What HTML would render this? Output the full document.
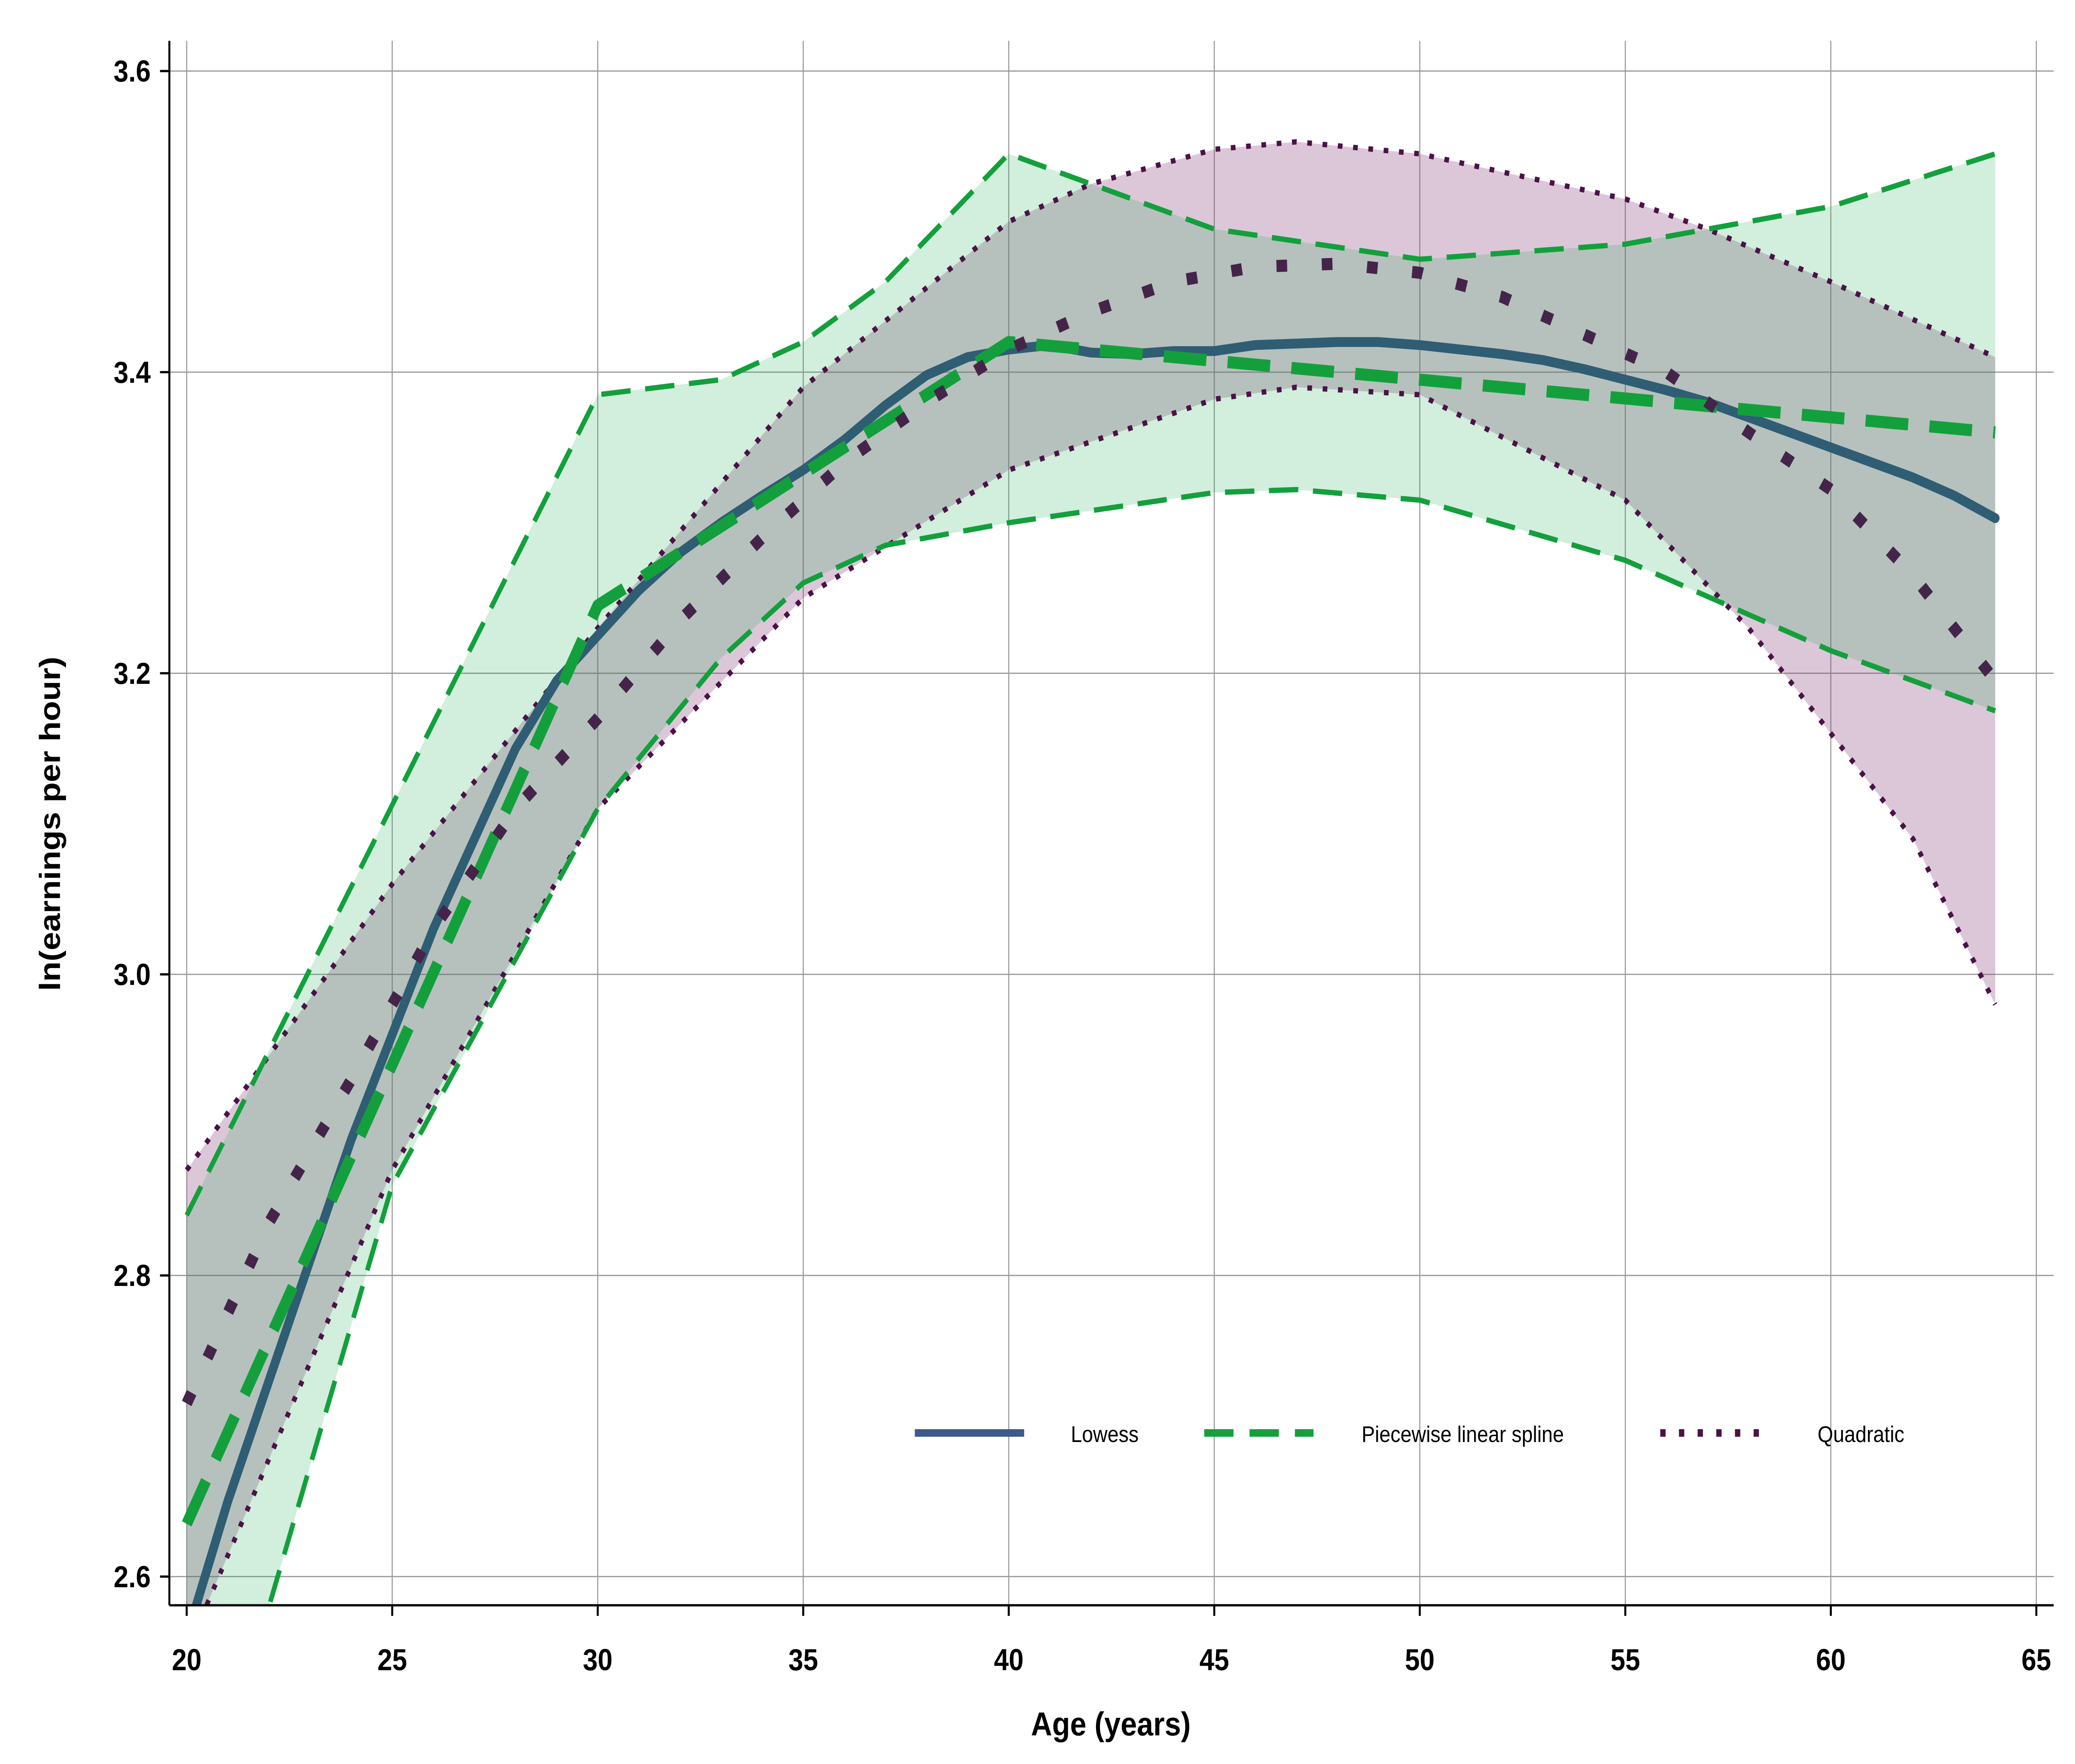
<!DOCTYPE html>
<html><head><meta charset="utf-8"><style>html,body{margin:0;padding:0;background:#fff;width:100%;height:100%;overflow:hidden}svg{display:block;position:absolute;left:0;top:0;width:100vw;height:100vh}</style></head>
<body>
<svg id="chart" viewBox="0 0 1556 1167" preserveAspectRatio="none" xmlns="http://www.w3.org/2000/svg" font-family="Liberation Sans, Arial, sans-serif">
<defs><clipPath id="pc"><rect x="127" y="27" width="1413" height="1035"/></clipPath></defs>
<rect x="0" y="0" width="1556" height="1167" fill="#fff"/>
<g id="root">
<g id="grid"></g>
<g id="bands" clip-path="url(#pc)"></g>
<g id="lines" clip-path="url(#pc)"></g>
<g id="axes"></g>
<g id="legend"></g>
</g>
</svg>
<script>
const xTicks=[20,25,30,35,40,45,50,55,60,65];
const yTicks=[2.6,2.8,3.0,3.2,3.4,3.6];
const yTickLabels=["2.6","2.8","3.0","3.2","3.4","3.6"];
const lowessAge=[20,21,22,23,24,25,26,27,28,29,30,31,32,33,34,35,36,37,38,39,40,41,42,43,44,45,46,47,48,49,50,51,52,53,54,55,56,57,58,59,60,61,62,63,64];
const lowessVal=[2.56,2.65,2.73,2.81,2.89,2.96,3.03,3.09,3.15,3.195,3.225,3.255,3.28,3.30,3.318,3.335,3.355,3.378,3.398,3.41,3.415,3.418,3.413,3.412,3.414,3.414,3.418,3.419,3.42,3.42,3.418,3.415,3.412,3.408,3.402,3.395,3.388,3.38,3.37,3.36,3.35,3.34,3.33,3.318,3.303];
const splineAge=[20,30,40,64];
const splineVal=[2.635,3.245,3.42,3.36];
const splineUpAge=[20,30,33,35,37,40,45,50,55,60,64];
const splineUpVal=[2.84,3.385,3.395,3.42,3.46,3.545,3.495,3.475,3.485,3.51,3.545];
const splineLoAge=[20,22,25,30,33,35,37,40,45,47,50,55,60,64];
const splineLoVal=[2.43,2.58,2.86,3.11,3.21,3.26,3.285,3.30,3.32,3.322,3.315,3.275,3.215,3.175];
const quadAge=[20,22,24,26,28,30,32,34,36,38,40,42,44,46,48,50,52,54,56,58,60,62,64];
const quadVal=[2.715,2.835,2.93,3.03,3.11,3.17,3.235,3.29,3.34,3.38,3.415,3.44,3.46,3.47,3.472,3.466,3.45,3.425,3.40,3.36,3.322,3.265,3.195];
const quadUpAge=[20,25,30,35,40,42,45,47,50,55,57,60,64];
const quadUpVal=[2.87,3.06,3.23,3.39,3.50,3.525,3.548,3.553,3.545,3.515,3.495,3.46,3.41];
const quadLoAge=[20,25,30,35,40,45,47,50,55,58,60,62,64];
const quadLoVal=[2.55,2.87,3.11,3.25,3.335,3.382,3.39,3.385,3.315,3.23,3.16,3.09,2.98];

const NS="http://www.w3.org/2000/svg";
const X=a=>140+(a-20)*(1387/45);
const Y=v=>47+(3.6-v)*996;
function mk(t,attrs,parent){const e=document.createElementNS(NS,t);for(const k in attrs)e.setAttribute(k,attrs[k]);document.getElementById(parent).appendChild(e);return e;}
function pts(ag,vl){return ag.map((a,i)=>X(a).toFixed(2)+","+Y(vl[i]).toFixed(2));}
xTicks.forEach(t=>{const l=mk('line',{x1:X(t),x2:X(t),y1:27,y2:1062,stroke:'#999','stroke-width':0.8},'grid');

});
yTicks.forEach(t=>{const l=mk('line',{x1:127,x2:1540,y1:Y(t),y2:Y(t),stroke:'#999','stroke-width':0.8},'grid');

});
function band(ua,uv,la,lv,fill,name){const p=pts(ua,uv).concat(pts(la,lv).reverse());const e=mk('polygon',{points:p.join(' '),fill:fill},'bands');

}
band(quadUpAge,quadUpVal,quadLoAge,quadLoVal,'rgba(140,70,130,0.3)','quadratic-ci-band');
band(splineUpAge,splineUpVal,splineLoAge,splineLoVal,'rgba(30,170,80,0.2)','spline-ci-band');
function line(ag,vl,stroke,w,dash,cap,name){const e=mk('polyline',{points:pts(ag,vl).join(' '),fill:'none',stroke:stroke,'stroke-width':w,'stroke-dasharray':dash,'stroke-linecap':cap,'stroke-linejoin':'round'},'lines');

}
line(quadUpAge,quadUpVal,'#4b1248',3.5,'3.5 8','butt','quadratic-ci-upper');
line(quadLoAge,quadLoVal,'#4b1248',3.5,'3.5 8','butt','quadratic-ci-lower');
line(splineUpAge,splineUpVal,'#13a03c',3.5,'22 11','butt','spline-ci-upper');
line(splineLoAge,splineLoVal,'#13a03c',3.5,'22 11','butt','spline-ci-lower');
line(lowessAge,lowessVal,'#2f5d73',6.5,'none','round','lowess-line');
line(splineAge,splineVal,'#13a03c',8,'32 16','butt','spline-line');
line(quadAge,quadVal,'#45244a',8,'8 26','butt','quadratic-line');
let e=mk('line',{x1:127,x2:127,y1:27,y2:1062,stroke:'#000','stroke-width':1.5},'axes');


e=mk('line',{x1:127,x2:1540,y1:1062,y2:1062,stroke:'#000','stroke-width':1.5},'axes');


xTicks.forEach(t=>{mk('line',{x1:X(t),x2:X(t),y1:1062,y2:1069,stroke:'#000','stroke-width':1.5},'axes');
const tx=mk('text',{x:X(t),y:1105,'text-anchor':'middle','font-size':20,'font-weight':'bold',fill:'#000'},'axes');tx.textContent=t;

});
yTicks.forEach((t,i)=>{mk('line',{x1:120,x2:127,y1:Y(t),y2:Y(t),stroke:'#000','stroke-width':1.5},'axes');
const tx=mk('text',{x:113,y:Y(t)+7,'text-anchor':'end','font-size':20,'font-weight':'bold',fill:'#000'},'axes');tx.textContent=yTickLabels[i];

});
e=mk('text',{x:833,y:1148,'text-anchor':'middle','font-size':22,'font-weight':'bold'},'axes');e.textContent='Age (years)';


e=mk('text',{x:0,y:0,'text-anchor':'middle','font-size':22,'font-weight':'bold',transform:'translate(45,545) rotate(-90)'},'axes');e.textContent='ln(earnings per hour)';


function leg(x1,x2,tx,label,stroke,w,dash,name){const g=mk('g',{},'legend');


const l=document.createElementNS(NS,'line');[['x1',x1],['x2',x2],['y1',948],['y2',948],['stroke',stroke],['stroke-width',w],['stroke-dasharray',dash]].forEach(a=>l.setAttribute(a[0],a[1]));g.appendChild(l);
const t=document.createElementNS(NS,'text');t.setAttribute('x',tx);t.setAttribute('y',954);t.setAttribute('font-size',15);t.textContent=label;g.appendChild(t);}
leg(686,768,803,'Lowess','#3c5a8a',5,'none','legend-entry-lowess');
leg(903,985,1021,'Piecewise linear spline','#13a03c',5,'22 12','legend-entry-spline');
leg(1245,1325,1363,'Quadratic','#4b1248',5,'4 10','legend-entry-quadratic');
</script>
</body></html>
